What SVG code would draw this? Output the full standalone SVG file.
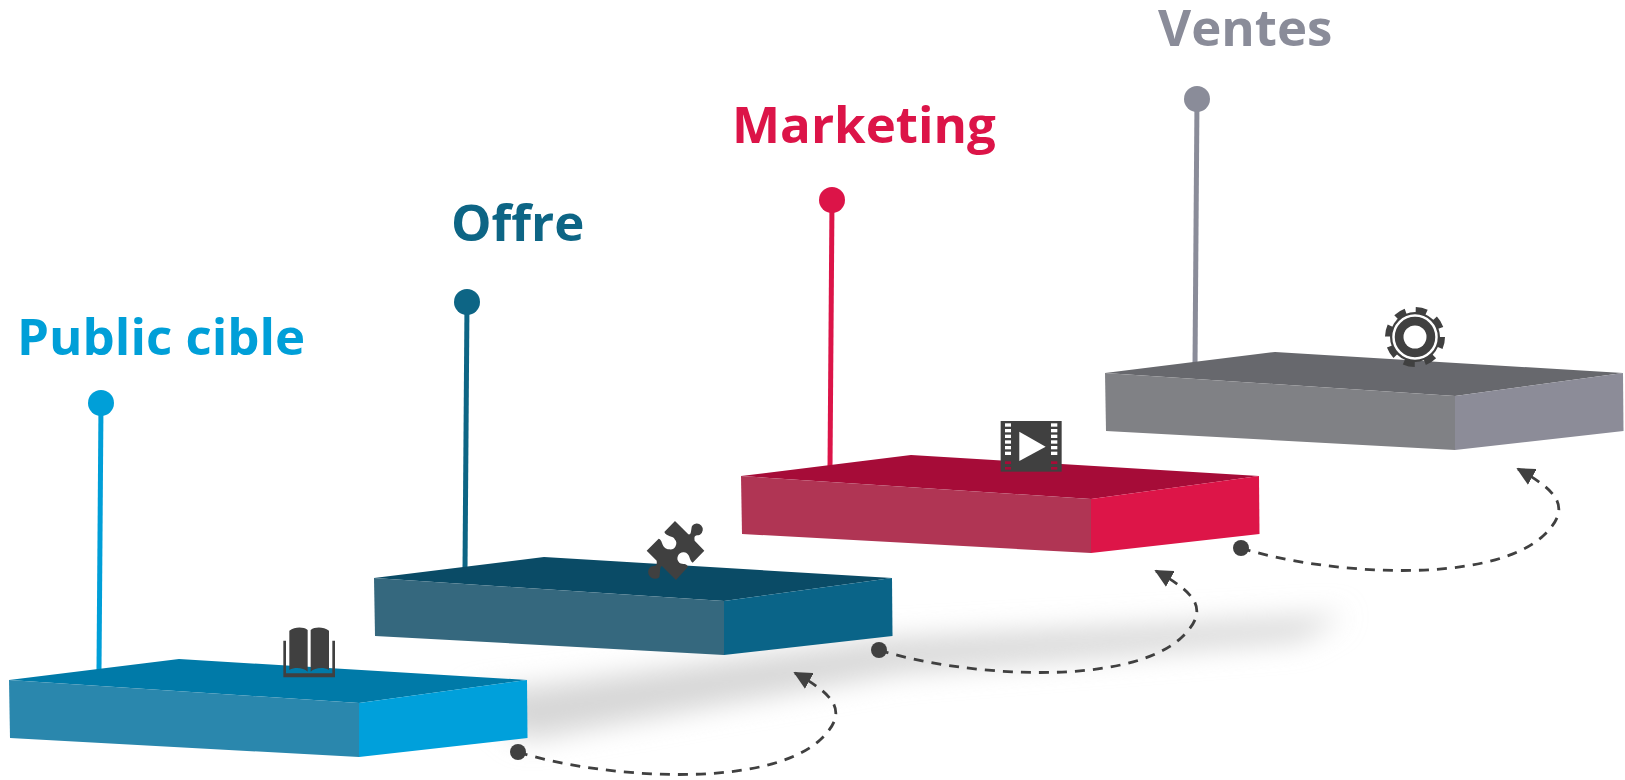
<svg xmlns="http://www.w3.org/2000/svg" width="1625" height="780" viewBox="0 0 1625 780">
<style>
.lbl{font-family:"Open Sans","Liberation Sans",sans-serif;font-weight:700;font-size:51px}
.dash{fill:none;stroke:#404040;stroke-width:2.8;stroke-dasharray:10 8}
.ic{fill:#404040}
</style>
<defs>
<filter id="blur" x="-10%" y="-40%" width="120%" height="180%"><feGaussianBlur stdDeviation="14"/></filter>
<marker id="arr" viewBox="0 0 10 10" refX="9" refY="5" markerWidth="6.5" markerHeight="6.5" orient="auto"><path d="M0,0L10,5L0,10Z" fill="#404040"/></marker>
<polygon id="top" points="9,680 179,659 527,680 359,703"/>
<polygon id="front" points="9,680 359,703 359,757 10,738"/>
<polygon id="side" points="359,703 527,680 527.500,738 359,757"/>
</defs>
<g id="shadow"><polygon points="470,695 880,640 1345,615 1300,640 900,672 525,740" fill="#d6d6d6" filter="url(#blur)"/></g>
<g id="connectors">
<path class="dash" marker-end="url(#arr)" d="M518,752C600,778 765,790 820,740C850,712 835,695 795,673"/>
<path class="dash" marker-end="url(#arr)" transform="translate(361,-102)" d="M518,752C600,778 765,790 820,740C850,712 835,695 795,673"/>
<path class="dash" marker-end="url(#arr)" transform="translate(723,-204)" d="M518,752C600,778 765,790 820,740C850,712 835,695 795,673"/>
<circle cx="518" cy="752" r="8" fill="#404040"/><circle cx="879" cy="650" r="8" fill="#404040"/><circle cx="1241" cy="548" r="8" fill="#404040"/>
</g>
<g id="node-public">
<line x1="101" y1="403" x2="99" y2="670" stroke="#009fd8" stroke-width="5"/><circle cx="101" cy="403" r="13" fill="#009fd8"/>
<use href="#top" fill="#007aa8"/><use href="#front" fill="#2a87ad"/><use href="#side" fill="#00a0db"/>
<text class="lbl" x="17" y="355" fill="#009fd8">Public cible</text>
<g transform="translate(270,620) scale(.3333)">
<path class="ic" d="M40,62H58V150C75,140 100,143 113,155V30C100,20 75,20 58,32V62H48V160H187V62H177V32C160,20 135,20 122,30V155C135,143 160,140 177,150V62H195V172H40Z"/>
</g>
</g>
<g id="node-offre">
<line x1="467" y1="302" x2="465" y2="570" stroke="#0d6585" stroke-width="5"/><circle cx="467" cy="302" r="13" fill="#0d6585"/>
<g transform="translate(365,-102)"><use href="#top" fill="#0a4b66"/><use href="#front" fill="#35687e"/><use href="#side" fill="#0a6488"/></g>
<text class="lbl" x="451" y="241" fill="#0d6585">Offre</text>
<path class="ic" transform="translate(620,500) scale(.3333)" d="M165,63L205,103C215,105 212,92 216,78A18,18 0 1 1 240,104C226,108 222,103 224,122L253,152L218,188C206,180 212,160 192,157A18,18 0 0 0 178,188C190,195 198,188 204,200L168,240L128,200C118,195 122,212 118,232A18,18 0 1 1 92,200C106,196 112,200 110,182L80,152L116,116C130,120 122,145 148,148A18,18 0 0 0 164,118C160,106 140,112 133,96Z"/>
</g>
<g id="node-marketing">
<line x1="832" y1="200" x2="830" y2="468" stroke="#dc1448" stroke-width="5"/><circle cx="832" cy="200" r="13" fill="#dc1448"/>
<g transform="translate(732,-204)"><use href="#top" fill="#a60c38"/><use href="#front" fill="#b03554"/><use href="#side" fill="#dd1548"/></g>
<text class="lbl" x="732" y="143" fill="#dc1448">Marketing</text>
<g transform="translate(980,400) scale(.3333)">
<rect class="ic" x="62" y="63" width="183" height="152"/>
<g fill="#fff"><rect x="75" y="70" width="18" height="10"/><rect x="75" y="87" width="18" height="10"/><rect x="75" y="104" width="18" height="10"/><rect x="75" y="121" width="18" height="10"/><rect x="75" y="138" width="18" height="10"/><rect x="75" y="155" width="18" height="10"/>
<rect x="213" y="70" width="19" height="10"/><rect x="213" y="87" width="19" height="10"/><rect x="213" y="104" width="19" height="10"/><rect x="213" y="121" width="19" height="10"/><rect x="213" y="138" width="19" height="10"/><rect x="213" y="155" width="19" height="10"/>
<polygon points="118,95 197,140 118,183"/></g>
<g fill="#a60c38"><rect x="75" y="184" width="18" height="8"/><rect x="75" y="201" width="18" height="8"/><rect x="213" y="184" width="19" height="8"/><rect x="213" y="201" width="19" height="8"/></g>
</g>
</g>
<g id="node-ventes">
<line x1="1197" y1="99" x2="1195" y2="366" stroke="#8a8c99" stroke-width="5"/><circle cx="1197" cy="99" r="13" fill="#8a8c99"/>
<g transform="translate(1096,-307)"><use href="#top" fill="#67686d"/><use href="#front" fill="#808185"/><use href="#side" fill="#8c8c98"/></g>
<text class="lbl" x="1158" y="46" fill="#8a8c99">Ventes</text>
<g transform="translate(1415,337)">
<circle r="25" fill="#404040"/><circle r="26.500" fill="none" stroke="#404040" stroke-width="7" stroke-dasharray="10.800 10"/>
<circle r="21.500" fill="none" stroke="#fff" stroke-width="2.500"/><circle r="11.500" fill="#fff"/>
</g>
</g>
</svg>
